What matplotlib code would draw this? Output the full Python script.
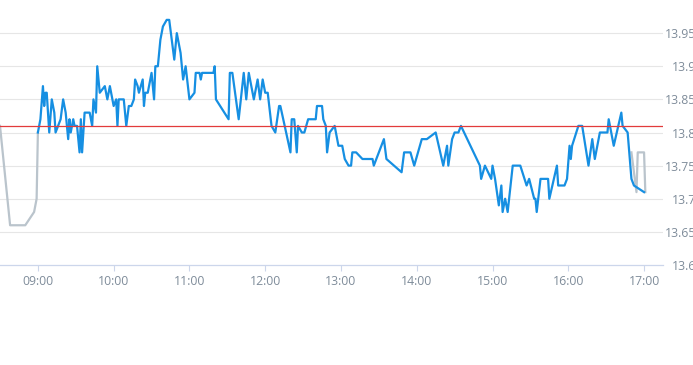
import matplotlib
matplotlib.use("Agg")
import matplotlib.pyplot as plt
from matplotlib.ticker import FixedLocator, FuncFormatter

# intraday price, regular session (blue)
times = ["09:00", "09:02", "09:04", "09:05", "09:06", "09:07", "09:09", "09:11", "09:13", "09:14",
         "09:16", "09:18", "09:20", "09:22", "09:24", "09:25", "09:26", "09:28", "09:29", "09:31",
         "09:33", "09:34", "09:35", "09:37", "09:41", "09:43", "09:44", "09:46", "09:47", "09:49",
         "09:53", "09:55", "09:57", "09:58", "10:00", "10:02", "10:03", "10:04", "10:08", "10:10",
         "10:12", "10:14", "10:16", "10:17", "10:19", "10:20", "10:23", "10:24", "10:25", "10:27",
         "10:30", "10:32", "10:33", "10:35", "10:36", "10:37", "10:39", "10:42", "10:44", "10:48",
         "10:50", "10:53", "10:55", "10:57", "11:00", "11:04", "11:05", "11:08", "11:09", "11:10",
         "11:19", "11:20", "11:21", "11:31", "11:32", "11:34", "11:39", "11:43", "11:45", "11:47",
         "11:51", "11:54", "11:56", "11:58", "12:00", "12:02", "12:05", "12:08", "12:11", "12:12",
         "12:20", "12:21", "12:23", "12:25", "12:26", "12:29", "12:31", "12:34", "12:40", "12:41",
         "12:45", "12:46", "12:48", "12:49", "12:51", "12:55", "12:58", "13:01", "13:03", "13:06",
         "13:08", "13:09", "13:12", "13:17", "13:25", "13:26", "13:34", "13:36", "13:48", "13:50",
         "13:55", "13:58", "14:04", "14:08", "14:15", "14:21", "14:24", "14:25", "14:28", "14:30",
         "14:33", "14:35", "14:45", "14:50", "14:51", "14:54", "14:59", "15:00", "15:02", "15:05",
         "15:07", "15:08", "15:10", "15:12", "15:16", "15:22", "15:27", "15:29", "15:33", "15:34",
         "15:35", "15:38", "15:44", "15:45", "15:51", "15:52", "15:57", "15:59", "16:01", "16:02",
         "16:03", "16:08", "16:11", "16:16", "16:19", "16:21", "16:25", "16:31", "16:32", "16:36",
         "16:42", "16:43", "16:47", "16:50", "16:52", "17:00"]
prices = [13.80, 13.82, 13.87, 13.84, 13.86, 13.86, 13.80, 13.85, 13.83, 13.80,
          13.81, 13.82, 13.85, 13.83, 13.79, 13.82, 13.80, 13.82, 13.81, 13.81,
          13.77, 13.82, 13.77, 13.83, 13.83, 13.81, 13.85, 13.83, 13.90, 13.86,
          13.87, 13.85, 13.87, 13.86, 13.84, 13.85, 13.81, 13.85, 13.85, 13.81,
          13.84, 13.84, 13.85, 13.88, 13.87, 13.86, 13.88, 13.84, 13.86, 13.86,
          13.89, 13.85, 13.90, 13.90, 13.92, 13.94, 13.96, 13.97, 13.97, 13.91,
          13.95, 13.92, 13.88, 13.90, 13.85, 13.86, 13.89, 13.89, 13.88, 13.89,
          13.89, 13.90, 13.85, 13.82, 13.89, 13.89, 13.82, 13.89, 13.85, 13.89,
          13.85, 13.88, 13.85, 13.88, 13.86, 13.86, 13.81, 13.80, 13.84, 13.84,
          13.77, 13.82, 13.82, 13.77, 13.81, 13.80, 13.80, 13.82, 13.82, 13.84,
          13.84, 13.82, 13.81, 13.77, 13.80, 13.81, 13.78, 13.78, 13.76, 13.75,
          13.75, 13.77, 13.77, 13.76, 13.76, 13.75, 13.79, 13.76, 13.74, 13.77,
          13.77, 13.75, 13.79, 13.79, 13.80, 13.75, 13.78, 13.75, 13.79, 13.80,
          13.80, 13.81, 13.77, 13.75, 13.73, 13.75, 13.73, 13.75, 13.73, 13.69,
          13.72, 13.68, 13.70, 13.68, 13.75, 13.75, 13.72, 13.73, 13.70, 13.70,
          13.68, 13.73, 13.73, 13.70, 13.75, 13.72, 13.72, 13.73, 13.78, 13.76,
          13.78, 13.81, 13.81, 13.75, 13.79, 13.76, 13.80, 13.80, 13.82, 13.78,
          13.83, 13.81, 13.80, 13.73, 13.72, 13.71]

# pre / post session (grey)
pre_times = ["08:30", "08:38", "08:50", "08:57", "08:59", "09:00"]
pre_prices = [13.81, 13.66, 13.66, 13.68, 13.70, 13.80]
post_times = ["16:50", "16:54", "16:55", "17:00", "17:01"]
post_prices = [13.77, 13.71, 13.77, 13.77, 13.71]

prev_close = 13.81
y_ticks = [13.6, 13.65, 13.7, 13.75, 13.8, 13.85, 13.9, 13.95]
x_ticks = ["09:00", "10:00", "11:00", "12:00", "13:00", "14:00", "15:00", "16:00", "17:00"]


def to_min(t):
    h, m = t.split(":")
    return (int(h) - 9) * 60 + int(m)


label_color = "#7f8c9a"

fig = plt.figure(figsize=(6.93, 3.65), dpi=100)
ax = fig.add_axes([0, 100 / 365, 663 / 693, 265 / 365])

ax.plot([to_min(t) for t in pre_times], pre_prices, color="#bac4cc", lw=1.6,
        solid_joinstyle="round", zorder=2)
ax.plot([to_min(t) for t in post_times], post_prices, color="#bac4cc", lw=1.6,
        solid_joinstyle="round", zorder=2)
ax.plot([to_min(t) for t in times], prices, color="#168fe2", lw=1.6,
        solid_joinstyle="round", zorder=3)
ax.axhline(prev_close, color="#e23b3b", lw=0.9, zorder=4)

ax.set_xlim(-30, 495)
ax.set_ylim(13.6, 14.0)

# grid
for v in y_ticks[1:]:
    ax.axhline(v, color="#e6e6e6", lw=0.8, zorder=1)

for s in ["top", "left", "right"]:
    ax.spines[s].set_visible(False)
ax.spines["bottom"].set_color("#ccd6eb")
ax.spines["bottom"].set_linewidth(0.9)

ax.xaxis.set_major_locator(FixedLocator([to_min(t) for t in x_ticks]))
ax.set_xticklabels(x_ticks)
ax.tick_params(axis="x", length=4, width=0.8, color="#ccd6eb", pad=3.5,
               labelsize=8.8, labelcolor=label_color)

ax.yaxis.tick_right()
ax.yaxis.set_major_locator(FixedLocator(y_ticks))
ax.yaxis.set_major_formatter(FuncFormatter(lambda v, p: f"{v:g}"))
ax.tick_params(axis="y", length=0, pad=23.8, labelsize=8.8, labelcolor=label_color)
for lab in ax.get_yticklabels():
    lab.set_horizontalalignment("right")

for lab in ax.get_xticklabels() + ax.get_yticklabels():
    lab.set_fontfamily("Open Sans")

fig.savefig("out.png", dpi=100)
